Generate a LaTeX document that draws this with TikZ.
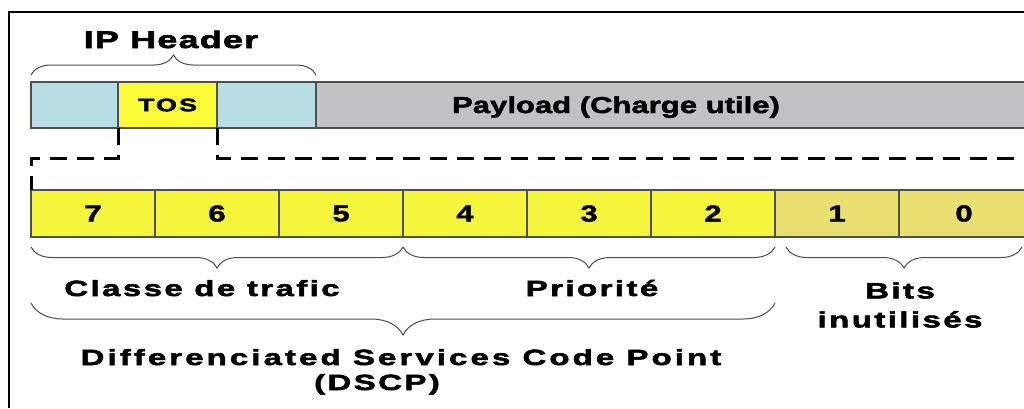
\documentclass[tikz,border=0pt]{standalone}
\usepackage{fontspec}
\setmainfont{Liberation Sans}[FakeStretch=1.35,FakeBold=2]
\newfontfamily\lblfont{Liberation Sans}[FakeStretch=1.5,FakeBold=2.5,LetterSpace=11]
\newfontfamily\hdrfont{Liberation Sans}[FakeStretch=1.5,FakeBold=2.5,LetterSpace=5]
\newfontfamily\dscpfont{Liberation Sans}[FakeStretch=1.5,FakeBold=2.5,LetterSpace=14]
\definecolor{hdrcyan}{RGB}{183,222,228}
\definecolor{tosyellow}{RGB}{250,250,55}
\definecolor{bityellow}{RGB}{245,245,60}
\definecolor{unusedyellow}{RGB}{234,224,112}
\definecolor{paygray}{RGB}{194,194,198}
\definecolor{cellline}{RGB}{80,80,72}
\usetikzlibrary{positioning,calc,decorations.pathreplacing}

\begin{document}
\begin{tikzpicture}[x=1pt,y=-1pt,
  cell/.style={draw=cellline, line width=1.3pt, inner sep=0pt, outer sep=0pt},
  hdrcell/.style={cell, minimum height=46pt, font=\lblfont\bfseries\fontsize{18}{20}\selectfont},
  bitcell/.style={cell, minimum width=124pt, minimum height=47pt, font=\bfseries\fontsize{23}{26}\selectfont},
  lbl/.style={inner sep=0pt, font=\lblfont\bfseries\fontsize{22}{29}\selectfont},
  brc/.style={decorate, decoration={brace, amplitude=#1}, line width=1pt, draw=black!70},
  tosdash/.style={line width=3pt, dash pattern=on 17pt off 10pt}]
  \useasboundingbox (0,0) rectangle (1024,408);
  \fill[white] (0,0) rectangle (1024,408);

  % Frame
  \draw[line width=2pt] (9,408) -- (9,12) -- (1024,12);

  % IP packet
  \node[hdrcell, fill=hdrcyan, minimum width=87pt] (hdrA) at (74.5,105) {};
  \node[hdrcell, fill=tosyellow, minimum width=99pt] (tos) at (167.5,105) {TOS};
  \node[hdrcell, fill=hdrcyan, minimum width=99pt] (hdrB) at (266.5,105) {};
  \node[hdrcell, fill=paygray, minimum width=714pt] (payload) at (673,105) {};
  \node[anchor=base, font=\bfseries\fontsize{23}{26}\selectfont] (payloadTxt) at (616,113) {Payload (Charge utile)};

  % IP Header brace
  \draw[brc=20pt] ($(hdrA.north west)+(0,-7)$) -- ($(hdrB.north east)+(0,-7)$);
  \node[lbl, anchor=base, font=\hdrfont\bfseries\fontsize{24}{28}\selectfont] (iphdr) at (171,48) {IP Header};

  % TOS byte
  \node[bitcell, fill=bityellow] (bit7) at (93,213.5) {7};
  \node[bitcell, fill=bityellow] (bit6) at (217,213.5) {6};
  \node[bitcell, fill=bityellow] (bit5) at (341,213.5) {5};
  \node[bitcell, fill=bityellow] (bit4) at (465,213.5) {4};
  \node[bitcell, fill=bityellow] (bit3) at (589,213.5) {3};
  \node[bitcell, fill=bityellow] (bit2) at (713,213.5) {2};
  \node[bitcell, fill=unusedyellow] (bit1) at (837,213.5) {1};
  \node[bitcell, fill=unusedyellow, minimum width=130pt] (bit0) at (964,213.5) {0};

  % Zoom lines
  \coordinate (dashL) at (31,158);
  \coordinate (dashR) at (1024,158);
  \draw[tosdash] (tos.south west) |- (dashL) -- (bit7.north west);
  \draw[tosdash] (tos.south east) |- (dashR);

  % Field braces
  \draw[brc=21pt] ($(bit5.south east)+(0,10)$) -- ($(bit7.south west)+(0,10)$);
  \draw[brc=21pt] ($(bit2.south east)+(0,10)$) -- ($(bit4.south west)+(0,10)$);
  \draw[brc=21pt] ($(bit0.south)+(58,10)$) -- ($(bit1.south west)+(11,10)$);
  \draw[brc=32pt] ($(bit2.south east)+(0,66)$) -- ($(bit7.south west)+(0,66)$);

  \node[lbl, anchor=base] (classe) at (202,296) {Classe de trafic};
  \node[lbl, anchor=base] (prio) at (592,296) {Priorité};
  \node[lbl, align=center] (unused) at (900,305) {Bits\\inutilisés};
  \node[lbl, anchor=base, font=\dscpfont\bfseries\fontsize{22}{29}\selectfont] (dscp) at (401,365) {Differenciated Services Code Point};
  \node[lbl, anchor=base] (dscpAbbr) at (377,390) {(DSCP)};
\end{tikzpicture}
\end{document}
